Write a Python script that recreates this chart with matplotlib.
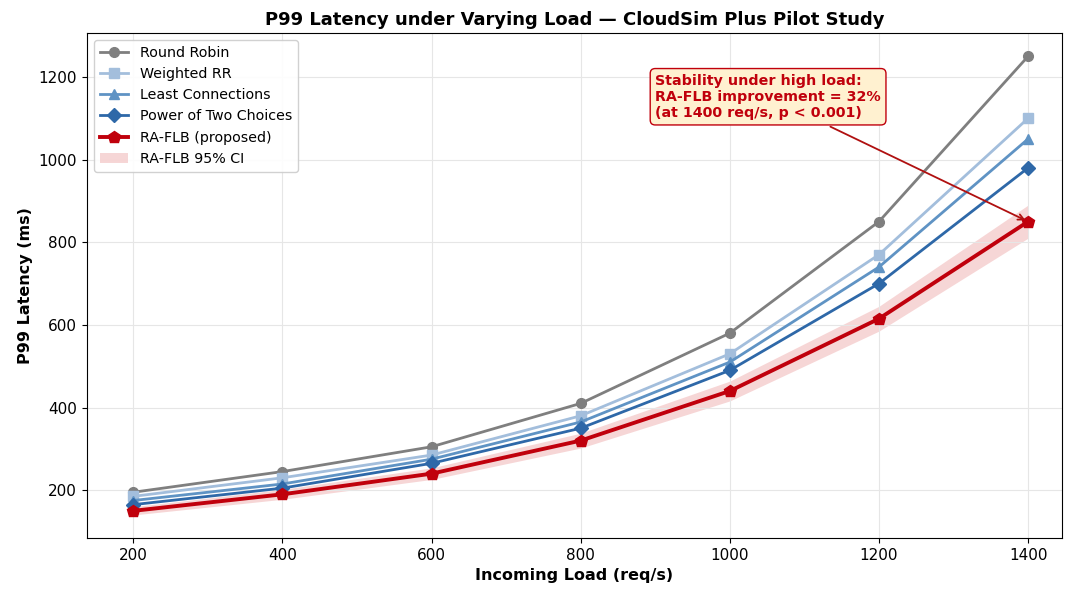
import matplotlib
matplotlib.use('Agg')
import matplotlib.pyplot as plt
import numpy as np

# load levels (req/s)
loads = [200, 400, 600, 800, 1000, 1200, 1400]

# P99 latency (ms) per policy
round_robin = [195, 245, 305, 410, 580, 850, 1250]
weighted_rr = [185, 230, 285, 380, 530, 770, 1100]
least_conn = [175, 215, 275, 365, 510, 740, 1050]
power_two = [165, 205, 265, 350, 490, 700, 980]
ra_flb = [150, 190, 240, 320, 440, 615, 850]
ra_flb_lo = [140, 178, 226, 302, 416, 585, 810]
ra_flb_hi = [160, 202, 254, 338, 464, 645, 890]

fig, ax = plt.subplots(figsize=(10.67, 5.92), dpi=100)

ax.plot(loads, round_robin, marker='o', color='#7f7f7f', lw=2, ms=7, label='Round Robin')
ax.plot(loads, weighted_rr, marker='s', color='#a3bedc', lw=2, ms=7, label='Weighted RR')
ax.plot(loads, least_conn, marker='^', color='#5f93c4', lw=2, ms=7, label='Least Connections')
ax.plot(loads, power_two, marker='D', color='#2e68a8', lw=2, ms=7, label='Power of Two Choices')
ax.plot(loads, ra_flb, marker='p', color='#c0000c', lw=2.8, ms=9, label='RA-FLB (proposed)', zorder=5)
ax.fill_between(loads, ra_flb_lo, ra_flb_hi, color='#e88a8a', alpha=0.35, lw=0, label='RA-FLB 95% CI')

ax.annotate('Stability under high load:\nRA-FLB improvement = 32%\n(at 1400 req/s, p < 0.001)',
            xy=(loads[-1], ra_flb[-1]), xytext=(0.583, 0.92), textcoords='axes fraction',
            ha='left', va='top', fontsize=10.3, fontweight='bold', color='#c0000c',
            bbox=dict(boxstyle='round,pad=0.35', fc='#fff1d0', ec='#c0000c', lw=1),
            arrowprops=dict(arrowstyle='->', color='#b01010', lw=1.3))

ax.set_title('P99 Latency under Varying Load \u2014 CloudSim Plus Pilot Study', fontsize=13, fontweight='bold')
ax.set_xlabel('Incoming Load (req/s)', fontsize=11.5, fontweight='bold')
ax.set_ylabel('P99 Latency (ms)', fontsize=11.5, fontweight='bold')
ax.set_xticks(loads)
ax.set_xlim(138, 1445)
ax.set_ylim(84, 1306)
ax.tick_params(labelsize=11)
ax.grid(True, color='#e6e6e6', lw=0.8)
ax.legend(loc='upper left', fontsize=10.3, framealpha=0.9)

fig.subplots_adjust(left=0.0815, right=0.995, top=0.944, bottom=0.091)
fig.savefig('out.png')
